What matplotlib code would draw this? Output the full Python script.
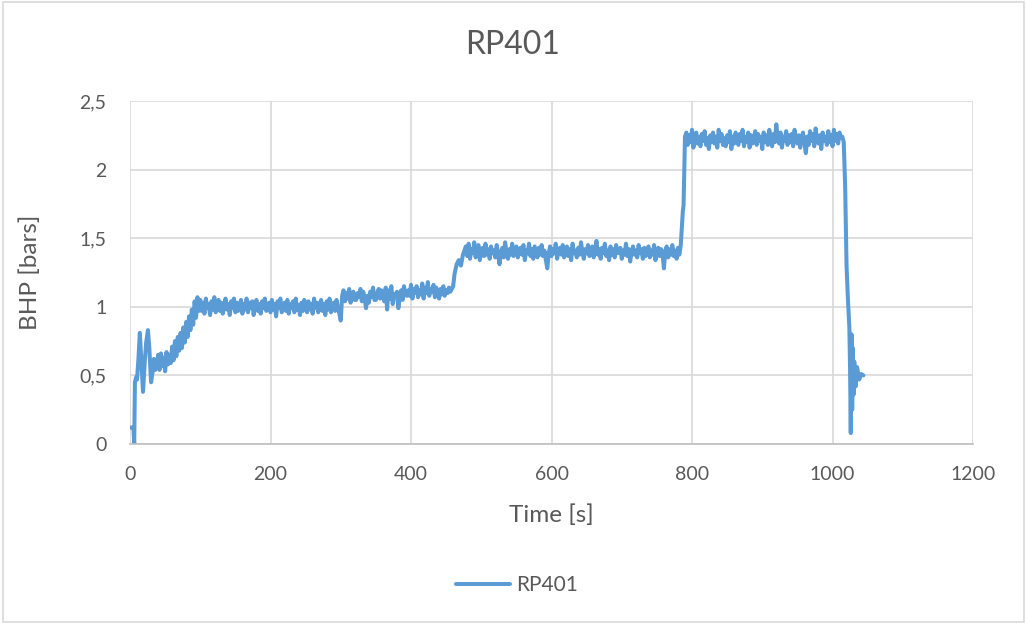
import numpy as np
import matplotlib
matplotlib.use("Agg")
import matplotlib.pyplot as plt
from matplotlib.patches import Rectangle
from matplotlib.ticker import FuncFormatter, MultipleLocator
from matplotlib.lines import Line2D

plt.rcParams['font.family'] = ['Lato', 'DejaVu Sans']

# ---- measured bottom-hole pressure, RP401 ----
# start-up: irregular sample times
startup_t = [0, 3, 5, 6, 7, 9, 10, 12, 14, 16, 18.5, 21, 23, 25.5, 27.5, 30, 32, 34, 36,
             38, 40, 42, 44, 46, 48, 50, 52, 54, 56,
             58, 60, 62, 64, 66, 68, 70, 72, 74, 76,
             78, 80, 82, 84, 86, 88, 90, 92, 94, 96, 98]
startup_p = [0.12, 0.12, 0.11, 0.0, 0.45, 0.49, 0.47, 0.62, 0.81, 0.62, 0.38, 0.60, 0.74, 0.83, 0.70, 0.45, 0.52, 0.62, 0.54,
             0.56, 0.65, 0.54, 0.66, 0.57, 0.63, 0.53, 0.67, 0.58, 0.65,
             0.59, 0.71, 0.61, 0.75, 0.64, 0.78, 0.68, 0.81, 0.70, 0.85,
             0.74, 0.89, 0.78, 0.93, 0.83, 0.98, 0.87, 1.04, 0.92, 1.07, 0.97]

# first level, 100-300 s (2 s sampling)
level1_span = (100, 300)
level1_p = [1.05, 0.97, 1.03, 0.95, 1.06, 0.99, 1.02, 0.94, 1.04, 0.98,
            1.07, 0.96, 1.01, 1.05, 0.97, 1.03, 0.95, 1.00, 1.06, 0.98,
            1.02, 0.94, 1.04, 0.99, 1.06, 0.96, 1.03, 0.97, 1.01, 1.05,
            0.95, 1.02, 0.98, 1.06, 0.96, 1.03, 0.99, 1.04, 0.94, 1.01,
            1.05, 0.97, 1.02, 0.95, 1.04, 0.99, 1.06, 0.97, 1.00, 1.03,
            0.96, 1.05, 0.98, 1.02, 0.93, 1.04, 0.99, 1.06, 0.96, 1.01,
            1.03, 0.97, 1.05, 0.95, 1.02, 0.99, 1.04, 0.96, 1.06, 0.98,
            1.01, 0.94, 1.03, 0.97, 1.05, 1.00, 0.96, 1.04, 0.98, 1.02,
            0.95, 1.06, 0.99, 1.03, 0.96, 1.01, 1.05, 0.97, 1.02, 0.94,
            1.04, 0.98, 1.06, 0.96, 1.01, 1.03, 0.97, 1.05, 0.99, 0.95,
            0.90]

# slightly raised level, 302-456 s
level1b_span = (302, 456)
level1b_p = [1.08, 1.12, 1.04, 1.10, 1.06, 1.13, 1.03, 1.09, 1.11, 1.05,
             1.05, 1.10, 1.07, 1.13, 1.04, 1.11, 1.06, 0.99, 1.08, 1.03,
             1.11, 1.07, 1.14, 1.05, 1.05, 1.10, 1.13, 1.06, 1.12, 1.08,
             1.04, 1.14, 0.98, 1.12, 1.06, 1.15, 1.02, 1.09, 1.08, 1.11,
             0.99, 1.07, 1.12, 1.05, 1.15, 1.09, 1.08, 1.12, 1.08, 1.16,
             1.06, 1.13, 1.10, 1.15, 1.07, 1.12, 1.09, 1.17, 1.06, 1.14,
             1.10, 1.18, 1.08, 1.13, 1.11, 1.16, 1.07, 1.14, 1.10, 1.06,
             1.13, 1.09, 1.15, 1.08, 1.12, 1.10, 1.14, 1.11]

step2_t = [460, 462, 465, 468, 471, 474]
step2_p = [1.15, 1.24, 1.31, 1.34, 1.30, 1.38]

# second level, 478-782 s
level2_span = (478, 782)
level2_p = [1.44, 1.37, 1.46, 1.35, 1.42, 1.39, 1.47, 1.36, 1.41, 1.45,
            1.34, 1.40, 1.43, 1.37, 1.46, 1.38, 1.42, 1.35, 1.44, 1.39,
            1.41, 1.36, 1.45, 1.38, 1.31, 1.40, 1.43, 1.36, 1.47, 1.39,
            1.35, 1.42, 1.38, 1.46, 1.37, 1.41, 1.44, 1.36, 1.40, 1.43,
            1.38, 1.45, 1.34, 1.41, 1.39, 1.46, 1.37, 1.42, 1.35, 1.44,
            1.40, 1.36, 1.43, 1.38, 1.45, 1.37, 1.41, 1.34, 1.28, 1.39,
            1.44, 1.37, 1.42, 1.39, 1.46, 1.35, 1.41, 1.43, 1.38, 1.45,
            1.36, 1.40, 1.44, 1.37, 1.42, 1.34, 1.46, 1.39, 1.41, 1.36,
            1.43, 1.38, 1.47, 1.40, 1.35, 1.42, 1.39, 1.45, 1.37, 1.41,
            1.44, 1.36, 1.40, 1.48, 1.38, 1.42, 1.35, 1.43, 1.39, 1.46,
            1.37, 1.41, 1.34, 1.44, 1.38, 1.42, 1.36, 1.45, 1.39, 1.40,
            1.43, 1.35, 1.41, 1.38, 1.46, 1.37, 1.42, 1.33, 1.40, 1.44,
            1.38, 1.41, 1.36, 1.45, 1.39, 1.42, 1.35, 1.43, 1.37, 1.40,
            1.44, 1.36, 1.41, 1.38, 1.45, 1.34, 1.40, 1.43, 1.37, 1.42,
            1.39, 1.28, 1.41, 1.44, 1.36, 1.42, 1.38, 1.45, 1.37, 1.41,
            1.35, 1.43, 1.38]

step3_t = [784, 786, 787, 788, 789, 790]
step3_p = [1.45, 1.62, 1.70, 1.74, 2.00, 2.24]

# third level, 792-1012 s
level3_span = (792, 1012)
level3_p = [2.27, 2.18, 2.25, 2.20, 2.29, 2.16, 2.23, 2.27, 2.19, 2.24,
            2.17, 2.26, 2.21, 2.28, 2.18, 2.23, 2.15, 2.25, 2.20, 2.27,
            2.19, 2.24, 2.16, 2.29, 2.21, 2.26, 2.18, 2.23, 2.17, 2.25,
            2.20, 2.28, 2.15, 2.24, 2.19, 2.27, 2.22, 2.18, 2.26, 2.21,
            2.29, 2.17, 2.24, 2.20, 2.27, 2.16, 2.25, 2.19, 2.23, 2.28,
            2.18, 2.26, 2.21, 2.24, 2.15, 2.27, 2.20, 2.25, 2.18, 2.29,
            2.22, 2.17, 2.26, 2.20, 2.33, 2.23, 2.19, 2.27, 2.16, 2.24,
            2.21, 2.28, 2.18, 2.25, 2.20, 2.26, 2.17, 2.29, 2.22, 2.19,
            2.25, 2.16, 2.23, 2.27, 2.20, 2.12, 2.24, 2.18, 2.28, 2.21,
            2.26, 2.17, 2.30, 2.22, 2.19, 2.25, 2.15, 2.27, 2.21, 2.24,
            2.18, 2.28, 2.20, 2.25, 2.17, 2.29, 2.21, 2.26, 2.19, 2.27,
            2.23]

# shut-in
shutdown_t = [1014, 1016, 1018, 1020, 1022, 1024, 1025, 1026, 1027, 1028, 1029,
              1030, 1031, 1033, 1035, 1038, 1041, 1044]
shutdown_p = [2.24, 2.20, 1.88, 1.30, 1.05, 0.85, 0.55, 0.08, 0.80, 0.25, 0.70,
              0.36, 0.60, 0.42, 0.56, 0.47, 0.51, 0.50]


def sampled(span, values):
    """Sample times evenly spread over a recording span."""
    return np.linspace(span[0], span[1], len(values))


time_s = np.concatenate([startup_t, sampled(level1_span, level1_p),
                         sampled(level1b_span, level1b_p), step2_t,
                         sampled(level2_span, level2_p), step3_t,
                         sampled(level3_span, level3_p), shutdown_t])
bhp_bar = np.concatenate([startup_p, level1_p, level1b_p, step2_p,
                          level2_p, step3_p, level3_p, shutdown_p])

line_color = '#5B9BD5'
text_color = '#595959'
grid_color = '#D9D9D9'

W, H = 1026, 623
fig = plt.figure(figsize=(W / 100, H / 100), dpi=100)
ax = fig.add_axes([130 / W, 1 - 444 / H, 843 / W, 343 / H])

ax.plot(time_s, bhp_bar, color=line_color, lw=2.9, solid_joinstyle='round',
        solid_capstyle='round')

ax.set_xlim(0, 1200)
ax.set_ylim(0, 2.5)
ax.xaxis.set_major_locator(MultipleLocator(200))
ax.yaxis.set_major_locator(MultipleLocator(0.5))
ax.yaxis.set_major_formatter(FuncFormatter(lambda v, _: f"{v:g}".replace('.', ',')))
ax.grid(True, color=grid_color, lw=1.2)
ax.set_axisbelow(True)
for side in ('top', 'right', 'left'):
    ax.spines[side].set_visible(False)
ax.spines['bottom'].set_color('#BFBFBF')
ax.spines['bottom'].set_linewidth(1.2)
ax.tick_params(length=0, labelsize=14, labelcolor=text_color)
ax.tick_params(axis='y', pad=17)
ax.tick_params(axis='x', pad=16)

fig.text(0.5, 1 - 45 / H, 'RP401', ha='center', va='center', fontsize=23,
         color=text_color)
fig.text(551 / W, 1 - 515 / H, 'Time [s]', ha='center', va='center',
         fontsize=17.5, color=text_color)
fig.text(30 / W, 1 - 272 / H, 'BHP [bars]', ha='center', va='center',
         rotation=90, fontsize=17.5, color=text_color)

handle = Line2D([], [], color=line_color, lw=2.9, solid_capstyle='round')
fig.legend([handle], ['RP401'], loc='center', bbox_to_anchor=(517 / W, 1 - 585 / H),
           frameon=False, fontsize=15, labelcolor=text_color, handlelength=2.6,
           handletextpad=0.3)

fig.patches.append(Rectangle((3 / W, 1 / H), 1021 / W, 620 / H, transform=fig.transFigure,
                             fill=False, edgecolor=grid_color, lw=1.2))

fig.savefig('out.png', dpi=100, facecolor='white')
